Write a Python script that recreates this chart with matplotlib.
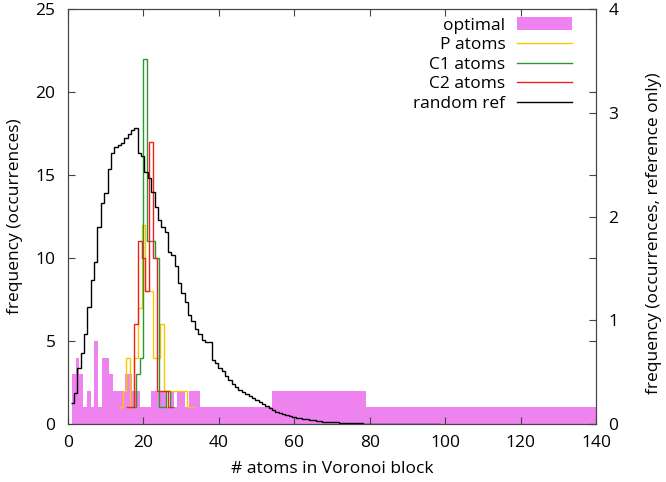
import numpy as np
import matplotlib
matplotlib.use("Agg")
import matplotlib.pyplot as plt
from matplotlib.patches import Patch
from matplotlib.lines import Line2D

plt.rcParams['font.family'] = ['Open Sans', 'DejaVu Sans']
plt.rcParams['font.size'] = 12.5

# optimal histogram: unit bins 1..35, then three wide blocks
opt_edges = list(range(1, 36)) + [54, 79, 140]
opt_counts = [3, 4, 3, 1, 2, 1, 5, 1, 4, 4,
              3, 2, 2, 2, 3, 3, 2, 2, 1, 1,
              1, 2, 2, 2, 2, 1, 2, 1, 2, 2,
              1, 2, 2, 2,
              1, 2, 1]

# atom histograms (first bin centre + counts per unit bin)
p_start = 14
p_counts = [1, 2, 4, 1, 4, 7, 12, 8, 8, 4, 4, 6, 2, 2, 2, 2, 2, 2, 1, 1]
c1_start = 17.5
c1_counts = [1, 3, 4, 22, 11, 11, 10, 1, 1, 2, 1]
c2_start = 16
c2_counts = [1, 1, 6, 11, 10, 8, 17, 10, 2, 2, 2, 1]

# random reference (right axis), narrower bins
ref_start = 0.7
ref_width = 0.89
ref_vals = [0.20, 0.30, 0.54, 0.68, 0.87, 1.13, 1.39, 1.56, 1.90, 2.13,
            2.23, 2.46, 2.61, 2.67, 2.69, 2.71, 2.76, 2.80, 2.83, 2.85,
            2.61, 2.58, 2.43, 2.37, 2.24, 2.09, 1.97, 1.90, 1.85, 1.66,
            1.63, 1.52, 1.36, 1.26, 1.18, 1.05, 0.99, 0.92, 0.87, 0.81,
            0.79, 0.79, 0.62, 0.59, 0.54, 0.51, 0.46, 0.42, 0.39, 0.36,
            0.33, 0.31, 0.29, 0.27, 0.25, 0.23, 0.21, 0.19, 0.17, 0.15,
            0.135, 0.12, 0.105, 0.095, 0.087, 0.075, 0.065, 0.06, 0.055, 0.05,
            0.045, 0.04, 0.035, 0.03, 0.026, 0.022, 0.018, 0.015, 0.015, 0.02,
            0.012, 0.01, 0.012, 0.008, 0.006, 0.005, 0.006, 0.004, 0.003, 0.004,
            0.003, 0.002, 0.003, 0.002, 0.001, 0.002, 0.001, 0.001, 0.0, 0.0,
            0.0, 0.0, 0.0, 0.0, 0.0, 0.0, 0.0, 0.0, 0.0, 0.0]

labels = ['optimal', 'P atoms', 'C1 atoms', 'C2 atoms', 'random ref']
colors = ['#ee82ee', '#f7c800', '#2e962e', '#ee2020', '#000000']


def unit_edges(start, n):
    return np.arange(n + 1) + start - 0.5


fig = plt.figure(figsize=(6.66, 4.82), dpi=100)
ax = fig.add_axes([0.1021, 0.1203, 0.7928, 0.861])

ax.bar(opt_edges[:-1], opt_counts, width=np.diff(opt_edges), align='edge',
       color=colors[0], linewidth=0, zorder=1)
ax.stairs(p_counts, unit_edges(p_start, len(p_counts)), baseline=None,
          color=colors[1], lw=1.0, zorder=2)
ax.stairs(c1_counts, unit_edges(c1_start, len(c1_counts)), baseline=None,
          color=colors[2], lw=1.0, zorder=3)
ax.stairs(c2_counts, unit_edges(c2_start, len(c2_counts)), baseline=None,
          color=colors[3], lw=1.0, zorder=4)

ax.set_xlim(0, 140)
ax.set_ylim(0, 25)
ax.set_xticks(range(0, 141, 20))
ax.set_yticks(range(0, 26, 5))
ax.set_xlabel('# atoms in Voronoi block', labelpad=7)
ax.set_ylabel('frequency (occurrences)', labelpad=9)

ax2 = ax.twinx()
ref_edges = ref_start + ref_width * np.arange(len(ref_vals) + 1)
ax2.stairs(ref_vals, ref_edges, baseline=None, color=colors[4], lw=1.0)
ax2.set_ylim(0, 4)
ax2.set_yticks(range(0, 5))
ax2.set_ylabel('frequency (occurrences, reference only)')
ax2.yaxis.set_label_coords(1.094, 0.46)

ax.tick_params(direction='in', length=5, top=True, right=True, color='#444444')
ax.tick_params(axis='x', pad=8)
ax.tick_params(axis='y', pad=9)
ax2.tick_params(direction='in', length=5, color='#444444', pad=9)
for a in (ax, ax2):
    for s in a.spines.values():
        s.set_color('#444444')

handles = [Patch(facecolor=colors[0], edgecolor='none')]
handles += [Line2D([], [], color=c, lw=1.0) for c in colors[1:]]
ax2.legend(handles, labels, loc='upper right', bbox_to_anchor=(0.859, 0.964),
           bbox_transform=fig.transFigure, frameon=False, markerfirst=False,
           handlelength=3.15, handletextpad=0.7, labelspacing=0.2,
           borderpad=0, borderaxespad=0)

fig.savefig('out.png', dpi=100)
